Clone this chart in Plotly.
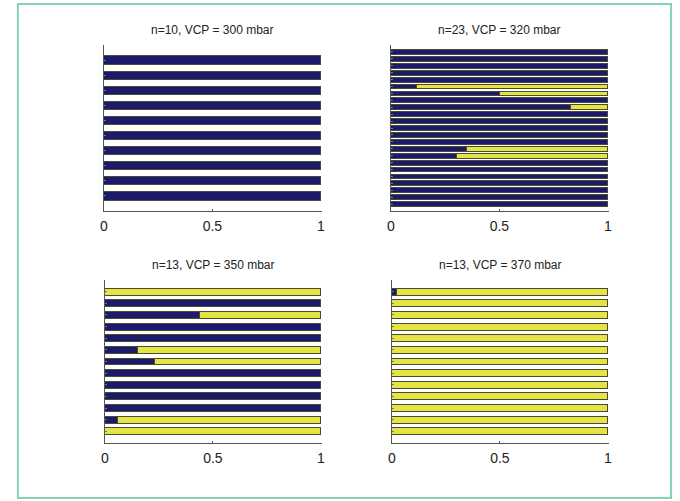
import plotly.graph_objects as go

W, H = 680, 501

titles = ["n=10, VCP = 300 mbar", "n=23, VCP = 320 mbar",
          "n=13, VCP = 350 mbar", "n=13, VCP = 370 mbar"]

# fraction of each bar drawn in navy (listed from top bar to bottom bar)
navy_300 = [1, 1, 1, 1, 1, 1, 1, 1, 1, 1]
navy_320 = [1, 1, 1, 1, 1, 0.12, 0.50, 1, 0.83, 1, 1, 1, 1, 1, 0.35, 0.30,
            1, 1, 1, 1, 1, 1, 1]
navy_350 = [0, 1, 0.44, 1, 1, 0.15, 0.23, 1, 1, 1, 1, 0.06, 0]
navy_370 = [0.02, 0, 0, 0, 0, 0, 0, 0, 0, 0, 0, 0, 0]

tick_vals = [0, 0.5, 1]
tick_text = ["0", "0.5", "1"]

panels = [navy_300, navy_320, navy_350, navy_370]
bar_widths = [0.55, 0.7, 0.6, 0.6]

# pixel boxes (left, right, top, bottom)
boxes = [(101, 321, 45, 211), (391, 611, 45, 211),
         (102, 321, 280, 443), (392, 611, 280, 443)]

NAVY = "#1c1b6b"
YELLOW = "#e4e444"
EDGE = "#4a4a30"

fig = go.Figure()
layout = dict(
    width=W, height=H,
    margin=dict(l=0, r=0, t=0, b=0),
    paper_bgcolor="white", plot_bgcolor="white",
    barmode="stack", showlegend=False,
    font=dict(family="Liberation Sans, Arial, sans-serif", size=14, color="#222222"),
    annotations=[], shapes=[],
)

for i, (navy, bw, box) in enumerate(zip(panels, bar_widths, boxes)):
    n = len(navy)
    ys = list(range(1, n + 1))
    yellow = [round(1 - v, 4) for v in navy]
    xa = "x" if i == 0 else f"x{i+1}"
    ya = "y" if i == 0 else f"y{i+1}"
    fig.add_trace(go.Bar(x=navy, y=ys, orientation="h", width=bw,
                         marker=dict(color=NAVY, line=dict(color=EDGE, width=1)),
                         xaxis=xa, yaxis=ya, hoverinfo="skip"))
    fig.add_trace(go.Bar(x=yellow, y=ys, orientation="h", width=bw,
                         marker=dict(color=YELLOW, line=dict(color=EDGE, width=1)),
                         xaxis=xa, yaxis=ya, hoverinfo="skip"))
    l, r, t, b = box
    xk = "xaxis" if i == 0 else f"xaxis{i+1}"
    yk = "yaxis" if i == 0 else f"yaxis{i+1}"
    layout[xk] = dict(domain=[l / W, r / W], range=[0, 1.004], anchor=ya,
                      tickvals=tick_vals, ticktext=tick_text,
                      showline=True, linecolor="#555555", linewidth=1,
                      ticks="inside", ticklen=2, tickcolor="#555555",
                      showgrid=False, zeroline=False, fixedrange=True,
                      ticklabelstandoff=2)
    layout[yk] = dict(domain=[1 - b / H, 1 - t / H], range=[n + 1, 0], anchor=xa,
                      tickvals=ys, showticklabels=False,
                      showline=True, linecolor="#555555", linewidth=1,
                      ticks="inside", ticklen=2, tickcolor="#777777",
                      showgrid=False, zeroline=False, fixedrange=True)
    layout["annotations"].append(dict(
        text=titles[i], x=(l + r) / 2 / W, y=1 - (t - 15) / H,
        xref="paper", yref="paper", showarrow=False,
        xanchor="center", yanchor="middle",
        font=dict(size=12, color="#222222")))

layout["shapes"].append(dict(
    type="rect", xref="paper", yref="paper",
    x0=14 / W, x1=674 / W, y0=1 - 498 / H, y1=1 - 4 / H,
    line=dict(color="#86d2b6", width=2), fillcolor="rgba(0,0,0,0)"))

fig.update_layout(**layout)
fig.write_html("out.html", config={"displayModeBar": False},
               post_script="document.body.style.margin='0';document.body.style.overflow='hidden';")
